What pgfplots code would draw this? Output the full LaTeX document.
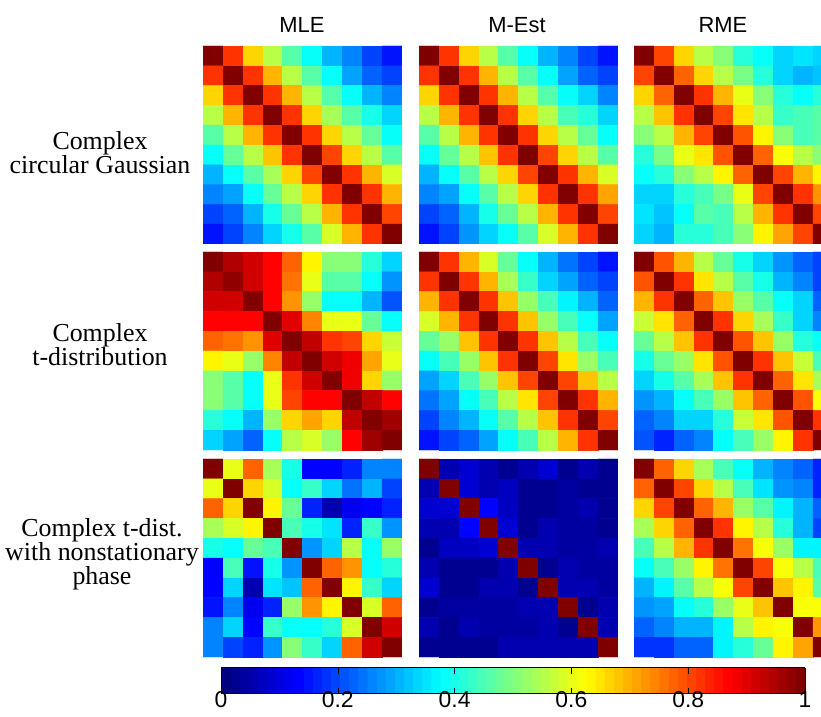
\documentclass[border=0pt]{standalone}
\usepackage{pgfplots}
\pgfplotsset{compat=1.18}
\usepackage{fontspec}
\setmainfont{Liberation Serif}
\newfontfamily\sansf{Liberation Sans}
\pgfplotsset{colormap/jet}
\pgfplotsset{colormap={jetsf}{samples of colormap=(64 of jet)}}
\pgfplotsset{panel/.style={
  scale only axis, width=199bp, height=198bp,
  xmin=-0.5, xmax=9.5, ymin=-0.5, ymax=9.5, y dir=reverse,
  enlargelimits=false, axis line style={draw=none},
  xtick=\empty, ytick=\empty,
  colormap name=jetsf, colormap access=piecewise constant,
  point meta min=0, point meta max=1,
  anchor=north west,
}}
\begin{document}
\begin{tikzpicture}
\useasboundingbox (0,0) rectangle (821bp,717bp);
% ---------- Row 1: Complex circular Gaussian
\begin{axis}[panel, at={(203bp,671bp)}]
\addplot[matrix plot*, mesh/cols=10, point meta=explicit] coordinates {
(0,0)[1] (1,0)[.82] (2,0)[.67] (3,0)[.56] (4,0)[.46] (5,0)[.38] (6,0)[.31] (7,0)[.26] (8,0)[.20] (9,0)[.155]
(0,1)[.82] (1,1)[1] (2,1)[.82] (3,1)[.69] (4,1)[.56] (5,1)[.46] (6,1)[.38] (7,1)[.29] (8,1)[.22] (9,1)[.19]
(0,2)[.67] (1,2)[.82] (2,2)[1] (3,2)[.82] (4,2)[.69] (5,2)[.56] (6,2)[.46] (7,2)[.38] (8,2)[.31] (9,2)[.26]
(0,3)[.56] (1,3)[.69] (2,3)[.82] (3,3)[1] (4,3)[.82] (5,3)[.67] (6,3)[.54] (7,3)[.46] (8,3)[.40] (9,3)[.33]
(0,4)[.46] (1,4)[.56] (2,4)[.69] (3,4)[.82] (4,4)[1] (5,4)[.82] (6,4)[.67] (7,4)[.56] (8,4)[.48] (9,4)[.39]
(0,5)[.38] (1,5)[.47] (2,5)[.56] (3,5)[.68] (4,5)[.82] (5,5)[1] (6,5)[.80] (7,5)[.67] (8,5)[.56] (9,5)[.46]
(0,6)[.31] (1,6)[.38] (2,6)[.46] (3,6)[.54] (4,6)[.67] (5,6)[.80] (6,6)[1] (7,6)[.82] (8,6)[.69] (9,6)[.58]
(0,7)[.26] (1,7)[.29] (2,7)[.38] (3,7)[.47] (4,7)[.56] (5,7)[.67] (6,7)[.82] (7,7)[1] (8,7)[.82] (9,7)[.69]
(0,8)[.20] (1,8)[.22] (2,8)[.31] (3,8)[.40] (4,8)[.47] (5,8)[.55] (6,8)[.69] (7,8)[.82] (8,8)[1] (9,8)[.81]
(0,9)[.155] (1,9)[.19] (2,9)[.26] (3,9)[.33] (4,9)[.40] (5,9)[.46] (6,9)[.58] (7,9)[.69] (8,9)[.82] (9,9)[1]
};
\end{axis}
\begin{axis}[panel, at={(419bp,671bp)}]
\addplot[matrix plot*, mesh/cols=10, point meta=explicit] coordinates {
(0,0)[1] (1,0)[.82] (2,0)[.67] (3,0)[.56] (4,0)[.46] (5,0)[.38] (6,0)[.31] (7,0)[.25] (8,0)[.20] (9,0)[.155]
(0,1)[.82] (1,1)[1] (2,1)[.82] (3,1)[.69] (4,1)[.56] (5,1)[.46] (6,1)[.38] (7,1)[.29] (8,1)[.22] (9,1)[.19]
(0,2)[.67] (1,2)[.82] (2,2)[1] (3,2)[.82] (4,2)[.69] (5,2)[.56] (6,2)[.46] (7,2)[.38] (8,2)[.33] (9,2)[.26]
(0,3)[.56] (1,3)[.69] (2,3)[.82] (3,3)[1] (4,3)[.82] (5,3)[.67] (6,3)[.55] (7,3)[.45] (8,3)[.41] (9,3)[.33]
(0,4)[.46] (1,4)[.56] (2,4)[.69] (3,4)[.82] (4,4)[1] (5,4)[.82] (6,4)[.67] (7,4)[.56] (8,4)[.48] (9,4)[.38]
(0,5)[.38] (1,5)[.47] (2,5)[.56] (3,5)[.68] (4,5)[.82] (5,5)[1] (6,5)[.80] (7,5)[.67] (8,5)[.56] (9,5)[.46]
(0,6)[.31] (1,6)[.38] (2,6)[.46] (3,6)[.55] (4,6)[.67] (5,6)[.80] (6,6)[1] (7,6)[.82] (8,6)[.69] (9,6)[.58]
(0,7)[.26] (1,7)[.29] (2,7)[.38] (3,7)[.46] (4,7)[.56] (5,7)[.67] (6,7)[.82] (7,7)[1] (8,7)[.82] (9,7)[.71]
(0,8)[.20] (1,8)[.22] (2,8)[.31] (3,8)[.40] (4,8)[.48] (5,8)[.55] (6,8)[.69] (7,8)[.82] (8,8)[1] (9,8)[.81]
(0,9)[.155] (1,9)[.19] (2,9)[.27] (3,9)[.33] (4,9)[.38] (5,9)[.46] (6,9)[.58] (7,9)[.69] (8,9)[.82] (9,9)[1]
};
\end{axis}
\begin{axis}[panel, at={(634bp,671bp)}, width=187.06bp, xmax=8.9]
\addplot[matrix plot*, mesh/cols=10, point meta=explicit] coordinates {
(0,0)[1] (1,0)[.80] (2,0)[.66] (3,0)[.56] (4,0)[.50] (5,0)[.42] (6,0)[.38] (7,0)[.33] (8,0)[.35] (9,0)[.33]
(0,1)[.80] (1,1)[1] (2,1)[.78] (3,1)[.67] (4,1)[.56] (5,1)[.49] (6,1)[.42] (7,1)[.33] (8,1)[.31] (9,1)[.32]
(0,2)[.66] (1,2)[.78] (2,2)[1] (3,2)[.82] (4,2)[.70] (5,2)[.60] (6,2)[.50] (7,2)[.42] (8,2)[.38] (9,2)[.42]
(0,3)[.56] (1,3)[.68] (2,3)[.82] (3,3)[1] (4,3)[.80] (5,3)[.65] (6,3)[.55] (7,3)[.43] (8,3)[.44] (9,3)[.46]
(0,4)[.50] (1,4)[.56] (2,4)[.70] (3,4)[.80] (4,4)[1] (5,4)[.79] (6,4)[.625] (7,4)[.50] (8,4)[.44] (9,4)[.46]
(0,5)[.42] (1,5)[.49] (2,5)[.60] (3,5)[.65] (4,5)[.79] (5,5)[1] (6,5)[.77] (7,5)[.61] (8,5)[.56] (9,5)[.50]
(0,6)[.375] (1,6)[.42] (2,6)[.50] (3,6)[.56] (4,6)[.625] (5,6)[.77] (6,6)[1] (7,6)[.80] (8,6)[.69] (9,6)[.64]
(0,7)[.33] (1,7)[.33] (2,7)[.42] (3,7)[.44] (4,7)[.49] (5,7)[.60] (6,7)[.80] (7,7)[1] (8,7)[.82] (9,7)[.72]
(0,8)[.35] (1,8)[.32] (2,8)[.375] (3,8)[.46] (4,8)[.44] (5,8)[.56] (6,8)[.69] (7,8)[.82] (8,8)[1] (9,8)[.80]
(0,9)[.33] (1,9)[.31] (2,9)[.42] (3,9)[.42] (4,9)[.44] (5,9)[.50] (6,9)[.625] (7,9)[.71] (8,9)[.80] (9,9)[1]
};
\end{axis}
% ---------- Row 2: Complex t-distribution
\begin{axis}[panel, at={(203bp,465bp)}]
\addplot[matrix plot*, mesh/cols=10, point meta=explicit] coordinates {
(0,0)[1] (1,0)[.95] (2,0)[.91] (3,0)[.87] (4,0)[.77] (5,0)[.625] (6,0)[.50] (7,0)[.50] (8,0)[.42] (9,0)[.33]
(0,1)[.95] (1,1)[.98] (2,1)[.92] (3,1)[.86] (4,1)[.76] (5,1)[.60] (6,1)[.46] (7,1)[.46] (8,1)[.38] (9,1)[.28]
(0,2)[.91] (1,2)[.92] (2,2)[1] (3,2)[.86] (4,2)[.72] (5,2)[.53] (6,2)[.375] (7,2)[.39] (8,2)[.30] (9,2)[.21]
(0,3)[.87] (1,3)[.86] (2,3)[.86] (3,3)[1] (4,3)[.90] (5,3)[.74] (6,3)[.60] (7,3)[.60] (8,3)[.48] (9,3)[.39]
(0,4)[.77] (1,4)[.76] (2,4)[.72] (3,4)[.90] (4,4)[1] (5,4)[.93] (6,4)[.82] (7,4)[.80] (8,4)[.67] (9,4)[.57]
(0,5)[.625] (1,5)[.60] (2,5)[.53] (3,5)[.74] (4,5)[.93] (5,5)[1] (6,5)[.91] (7,5)[.875] (8,5)[.71] (9,5)[.60]
(0,6)[.50] (1,6)[.46] (2,6)[.375] (3,6)[.60] (4,6)[.82] (5,6)[.91] (6,6)[1] (7,6)[.875] (8,6)[.67] (9,6)[.53]
(0,7)[.50] (1,7)[.46] (2,7)[.39] (3,7)[.60] (4,7)[.81] (5,7)[.87] (6,7)[.87] (7,7)[1] (8,7)[.93] (9,7)[.86]
(0,8)[.42] (1,8)[.38] (2,8)[.31] (3,8)[.52] (4,8)[.67] (5,8)[.71] (6,8)[.66] (7,8)[.93] (8,8)[1] (9,8)[.96]
(0,9)[.33] (1,9)[.29] (2,9)[.22] (3,9)[.39] (4,9)[.56] (5,9)[.59] (6,9)[.53] (7,9)[.87] (8,9)[.96] (9,9)[1]
};
\end{axis}
\begin{axis}[panel, at={(419bp,465bp)}]
\addplot[matrix plot*, mesh/cols=10, point meta=explicit] coordinates {
(0,0)[1] (1,0)[.82] (2,0)[.69] (3,0)[.58] (4,0)[.47] (5,0)[.375] (6,0)[.30] (7,0)[.24] (8,0)[.20] (9,0)[.15]
(0,1)[.82] (1,1)[1] (2,1)[.82] (3,1)[.69] (4,1)[.54] (5,1)[.43] (6,1)[.33] (7,1)[.29] (8,1)[.23] (9,1)[.19]
(0,2)[.69] (1,2)[.82] (2,2)[1] (3,2)[.82] (4,2)[.68] (5,2)[.53] (6,2)[.44] (7,2)[.36] (8,2)[.31] (9,2)[.22]
(0,3)[.58] (1,3)[.69] (2,3)[.82] (3,3)[1] (4,3)[.82] (5,3)[.68] (6,3)[.53] (7,3)[.44] (8,3)[.375] (9,3)[.29]
(0,4)[.47] (1,4)[.53] (2,4)[.68] (3,4)[.82] (4,4)[1] (5,4)[.82] (6,4)[.68] (7,4)[.56] (8,4)[.45] (9,4)[.375]
(0,5)[.375] (1,5)[.44] (2,5)[.53] (3,5)[.68] (4,5)[.82] (5,5)[1] (6,5)[.81] (7,5)[.65] (8,5)[.53] (9,5)[.45]
(0,6)[.29] (1,6)[.33] (2,6)[.45] (3,6)[.53] (4,6)[.68] (5,6)[.81] (6,6)[1] (7,6)[.81] (8,6)[.68] (9,6)[.56]
(0,7)[.24] (1,7)[.29] (2,7)[.375] (3,7)[.45] (4,7)[.55] (5,7)[.65] (6,7)[.81] (7,7)[1] (8,7)[.82] (9,7)[.70]
(0,8)[.20] (1,8)[.25] (2,8)[.31] (3,8)[.375] (4,8)[.46] (5,8)[.55] (6,8)[.68] (7,8)[.82] (8,8)[1] (9,8)[.81]
(0,9)[.155] (1,9)[.19] (2,9)[.22] (3,9)[.29] (4,9)[.375] (5,9)[.45] (6,9)[.56] (7,9)[.69] (8,9)[.82] (9,9)[1]
};
\end{axis}
\begin{axis}[panel, at={(634bp,465bp)}, width=187.06bp, xmax=8.9]
\addplot[matrix plot*, mesh/cols=10, point meta=explicit] coordinates {
(0,0)[1] (1,0)[.79] (2,0)[.69] (3,0)[.56] (4,0)[.47] (5,0)[.40] (6,0)[.33] (7,0)[.28] (8,0)[.22] (9,0)[.19]
(0,1)[.79] (1,1)[1] (2,1)[.82] (3,1)[.65] (4,1)[.56] (5,1)[.46] (6,1)[.40] (7,1)[.31] (8,1)[.26] (9,1)[.19]
(0,2)[.69] (1,2)[.82] (2,2)[1] (3,2)[.78] (4,2)[.68] (5,2)[.52] (6,2)[.46] (7,2)[.375] (8,2)[.33] (9,2)[.22]
(0,3)[.57] (1,3)[.65] (2,3)[.78] (3,3)[1] (4,3)[.82] (5,3)[.66] (6,3)[.54] (7,3)[.43] (8,3)[.33] (9,3)[.26]
(0,4)[.48] (1,4)[.56] (2,4)[.68] (3,4)[.82] (4,4)[1] (5,4)[.79] (6,4)[.68] (7,4)[.52] (8,4)[.42] (9,4)[.375]
(0,5)[.40] (1,5)[.48] (2,5)[.52] (3,5)[.65] (4,5)[.79] (5,5)[1] (6,5)[.82] (7,5)[.68] (8,5)[.57] (9,5)[.44]
(0,6)[.33] (1,6)[.40] (2,6)[.46] (3,6)[.54] (4,6)[.68] (5,6)[.82] (6,6)[1] (7,6)[.78] (8,6)[.65] (9,6)[.54]
(0,7)[.28] (1,7)[.31] (2,7)[.375] (3,7)[.44] (4,7)[.52] (5,7)[.68] (6,7)[.78] (7,7)[1] (8,7)[.79] (9,7)[.62]
(0,8)[.23] (1,8)[.26] (2,8)[.33] (3,8)[.33] (4,8)[.42] (5,8)[.57] (6,8)[.65] (7,8)[.79] (8,8)[1] (9,8)[.82]
(0,9)[.21] (1,9)[.17] (2,9)[.23] (3,9)[.25] (4,9)[.375] (5,9)[.45] (6,9)[.52] (7,9)[.625] (8,9)[.82] (9,9)[1]
};
\end{axis}
% ---------- Row 3: Complex t-dist. with nonstationary phase
\begin{axis}[panel, at={(203bp,258bp)},
  colorbar horizontal,
  colorbar style={
    at={(parent axis.south west)}, anchor=north west,
    xshift=18bp, yshift=-2bp,
    scale only axis, width=584bp, height=26bp,
    xtick={0,0.2,0.4,0.6,0.8,1}, xtick align=inside,
    xtick pos=both, xticklabel pos=left,
    major tick length=6bp, tick style={black, line width=0.6bp},
    axis line style={black, line width=0.8bp},
    xticklabel style={font=\sansf\fontsize{23}{23}\selectfont, /pgf/number format/assume math mode=true, inner sep=0pt, yshift=2bp},
  }]
\addplot[matrix plot*, mesh/cols=10, point meta=explicit] coordinates {
(0,0)[1] (1,0)[.60] (2,0)[.78] (3,0)[.54] (4,0)[.40] (5,0)[.125] (6,0)[.14] (7,0)[.17] (8,0)[.25] (9,0)[.25]
(0,1)[.60] (1,1)[1] (2,1)[.66] (3,1)[.59] (4,1)[.375] (5,1)[.43] (6,1)[.33] (7,1)[.24] (8,1)[.31] (9,1)[.19]
(0,2)[.78] (1,2)[.66] (2,2)[1] (3,2)[.625] (4,2)[.48] (5,2)[.17] (6,2)[.06] (7,2)[.12] (8,2)[.14] (9,2)[.16]
(0,3)[.54] (1,3)[.59] (2,3)[.625] (3,3)[1] (4,3)[.44] (5,3)[.40] (6,3)[.35] (7,3)[.16] (8,3)[.43] (9,3)[.27]
(0,4)[.40] (1,4)[.375] (2,4)[.48] (3,4)[.44] (4,4)[1] (5,4)[.28] (6,4)[.33] (7,4)[.55] (8,4)[.39] (9,4)[.52]
(0,5)[.125] (1,5)[.44] (2,5)[.15] (3,5)[.40] (4,5)[.28] (5,5)[1] (6,5)[.78] (7,5)[.73] (8,5)[.39] (9,5)[.42]
(0,6)[.125] (1,6)[.33] (2,6)[.06] (3,6)[.35] (4,6)[.32] (5,6)[.78] (6,6)[1] (7,6)[.64] (8,6)[.43] (9,6)[.34]
(0,7)[.15] (1,7)[.25] (2,7)[.12] (3,7)[.16] (4,7)[.52] (5,7)[.73] (6,7)[.64] (7,7)[1] (8,7)[.58] (9,7)[.77]
(0,8)[.25] (1,8)[.33] (2,8)[.13] (3,8)[.43] (4,8)[.39] (5,8)[.39] (6,8)[.42] (7,8)[.58] (8,8)[1] (9,8)[.91]
(0,9)[.25] (1,9)[.19] (2,9)[.16] (3,9)[.28] (4,9)[.50] (5,9)[.43] (6,9)[.34] (7,9)[.77] (8,9)[.91] (9,9)[1]
};
\end{axis}
\begin{axis}[panel, at={(419bp,258bp)}]
\addplot[matrix plot*, mesh/cols=10, point meta=explicit] coordinates {
(0,0)[1] (1,0)[.06] (2,0)[.09] (3,0)[.06] (4,0)[.02] (5,0)[.05] (6,0)[.09] (7,0)[.02] (8,0)[.06] (9,0)[.02]
(0,1)[.06] (1,1)[1] (2,1)[.09] (3,1)[.05] (4,1)[.07] (5,1)[.02] (6,1)[.02] (7,1)[.04] (8,1)[.02] (9,1)[.02]
(0,2)[.09] (1,2)[.09] (2,2)[1] (3,2)[.14] (4,2)[.07] (5,2)[.02] (6,2)[.02] (7,2)[.04] (8,2)[.06] (9,2)[.02]
(0,3)[.06] (1,3)[.05] (2,3)[.14] (3,3)[1] (4,3)[.08] (5,3)[.02] (6,3)[.05] (7,3)[.04] (8,3)[.04] (9,3)[.02]
(0,4)[.02] (1,4)[.07] (2,4)[.07] (3,4)[.08] (4,4)[1] (5,4)[.05] (6,4)[.05] (7,4)[.04] (8,4)[.04] (9,4)[.05]
(0,5)[.05] (1,5)[.02] (2,5)[.02] (3,5)[.03] (4,5)[.05] (5,5)[1] (6,5)[.02] (7,5)[.05] (8,5)[.04] (9,5)[.04]
(0,6)[.08] (1,6)[.02] (2,6)[.02] (3,6)[.05] (4,6)[.05] (5,6)[.02] (6,6)[1] (7,6)[.06] (8,6)[.06] (9,6)[.04]
(0,7)[.02] (1,7)[.04] (2,7)[.04] (3,7)[.04] (4,7)[.04] (5,7)[.05] (6,7)[.05] (7,7)[1] (8,7)[.02] (9,7)[.05]
(0,8)[.06] (1,8)[.02] (2,8)[.05] (3,8)[.04] (4,8)[.04] (5,8)[.04] (6,8)[.05] (7,8)[.02] (8,8)[1] (9,8)[.06]
(0,9)[.02] (1,9)[.03] (2,9)[.03] (3,9)[.03] (4,9)[.06] (5,9)[.05] (6,9)[.05] (7,9)[.06] (8,9)[.06] (9,9)[1]
};
\end{axis}
\begin{axis}[panel, at={(634bp,258bp)}, width=187.06bp, xmax=8.9]
\addplot[matrix plot*, mesh/cols=10, point meta=explicit] coordinates {
(0,0)[1] (1,0)[.78] (2,0)[.66] (3,0)[.54] (4,0)[.45] (5,0)[.375] (6,0)[.31] (7,0)[.26] (8,0)[.22] (9,0)[.16]
(0,1)[.78] (1,1)[1] (2,1)[.80] (3,1)[.66] (4,1)[.56] (5,1)[.45] (6,1)[.35] (7,1)[.28] (8,1)[.25] (9,1)[.17]
(0,2)[.66] (1,2)[.80] (2,2)[1] (3,2)[.78] (4,2)[.69] (5,2)[.53] (6,2)[.46] (7,2)[.36] (8,2)[.30] (9,2)[.22]
(0,3)[.54] (1,3)[.66] (2,3)[.78] (3,3)[1] (4,3)[.82] (5,3)[.64] (6,3)[.55] (7,3)[.42] (8,3)[.30] (9,3)[.20]
(0,4)[.45] (1,4)[.56] (2,4)[.69] (3,4)[.82] (4,4)[1] (5,4)[.76] (6,4)[.61] (7,4)[.53] (8,4)[.36] (9,4)[.36]
(0,5)[.375] (1,5)[.45] (2,5)[.53] (3,5)[.64] (4,5)[.76] (5,5)[1] (6,5)[.80] (7,5)[.61] (8,5)[.55] (9,5)[.45]
(0,6)[.31] (1,6)[.36] (2,6)[.46] (3,6)[.55] (4,6)[.61] (5,6)[.80] (6,6)[1] (7,6)[.68] (8,6)[.64] (9,6)[.46]
(0,7)[.27] (1,7)[.29] (2,7)[.375] (3,7)[.42] (4,7)[.53] (5,7)[.60] (6,7)[.68] (7,7)[1] (8,7)[.61] (9,7)[.61]
(0,8)[.22] (1,8)[.25] (2,8)[.31] (3,8)[.31] (4,8)[.36] (5,8)[.55] (6,8)[.64] (7,8)[.61] (8,8)[1] (9,8)[.72]
(0,9)[.18] (1,9)[.18] (2,9)[.22] (3,9)[.22] (4,9)[.36] (5,9)[.42] (6,9)[.48] (7,9)[.625] (8,9)[.71] (9,9)[1]
};
\end{axis}
% ---------- titles and row labels
\node[font=\sansf\fontsize{22}{22}\selectfont] at (302bp,692bp) {MLE};
\node[font=\sansf\fontsize{22}{22}\selectfont] at (517bp,692bp) {M-Est};
\node[font=\sansf\fontsize{22}{22}\selectfont] at (723bp,692bp) {RME};
\node[font=\fontsize{26}{24}\selectfont, align=center] at (100bp,564bp) {Complex\\circular Gaussian};
\node[font=\fontsize{26}{24}\selectfont, align=center] at (100bp,372bp) {Complex\\t-distribution};
\node[font=\fontsize{26}{24}\selectfont, align=center] at (102bp,163bp) {Complex t-dist.\\with nonstationary\\phase};
\end{tikzpicture}
\end{document}
